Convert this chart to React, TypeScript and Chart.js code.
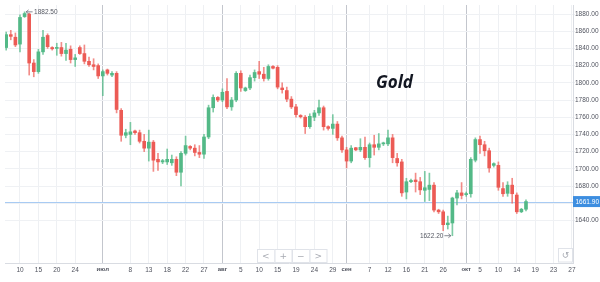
import React, { useEffect, useRef } from "react";
import { Chart, registerables } from "chart.js";

Chart.register(...registerables);

// Trading sessions (Sunday sessions included), 2022
const sessions = [
  "06-07", "06-08", "06-09", "06-10",
  "06-12", "06-13", "06-14", "06-15", "06-16", "06-17",
  "06-19", "06-20", "06-21", "06-22", "06-23", "06-24",
  "06-26", "06-27", "06-28", "06-29", "06-30", "07-01",
  "07-03", "07-04", "07-05", "07-06", "07-07", "07-08",
  "07-10", "07-11", "07-12", "07-13", "07-14", "07-15",
  "07-17", "07-18", "07-19", "07-20", "07-21", "07-22",
  "07-24", "07-25", "07-26", "07-27", "07-28", "07-29",
  "07-31", "08-01", "08-02", "08-03", "08-04", "08-05",
  "08-07", "08-08", "08-09", "08-10", "08-11", "08-12",
  "08-14", "08-15", "08-16", "08-17", "08-18", "08-19",
  "08-21", "08-22", "08-23", "08-24", "08-25", "08-26",
  "08-28", "08-29", "08-30", "08-31", "09-01", "09-02",
  "09-04", "09-05", "09-06", "09-07", "09-08", "09-09",
  "09-11", "09-12", "09-13", "09-14", "09-15", "09-16",
  "09-18", "09-19", "09-20", "09-21", "09-22", "09-23",
  "09-25", "09-26", "09-27", "09-28", "09-29", "09-30",
  "10-02", "10-03", "10-04", "10-05", "10-06", "10-07",
  "10-09", "10-10", "10-11", "10-12", "10-13", "10-14",
  "10-16", "10-17",
];

const opens = [
  1841, 1856, 1853, 1845,
  1877, 1880, 1823, 1813, 1836, 1855,
  1841, 1840, 1841, 1834, 1839, 1827,
  1841, 1834, 1825, 1821, 1820, 1808,
  1815, 1809, 1811, 1768, 1739, 1740,
  1744, 1742, 1732, 1724, 1731, 1711,
  1708, 1708, 1707, 1711, 1696, 1718,
  1726, 1724, 1719, 1717, 1737, 1771,
  1783, 1780, 1790, 1772, 1780, 1811,
  1791, 1794, 1806, 1813, 1810, 1805,
  1819, 1818, 1794, 1791, 1781, 1772,
  1762, 1760, 1749, 1760, 1765, 1771,
  1749, 1747, 1752, 1736, 1722, 1709,
  1724.5, 1722, 1725, 1713, 1728, 1725,
  1729, 1729, 1736, 1712, 1708, 1673,
  1685, 1687, 1685, 1675, 1676, 1681,
  1652, 1650, 1635, 1637, 1666, 1672,
  1670, 1671, 1710, 1734, 1728, 1721,
  1704, 1704, 1677, 1671.5, 1681, 1669.5,
  1650, 1653,
];

const highs = [
  1859, 1861, 1858, 1879,
  1882.5, 1881, 1827, 1839, 1861, 1857,
  1842, 1846, 1847, 1846, 1843, 1833,
  1843, 1844, 1830, 1828, 1822, 1815,
  1816, 1813, 1813, 1770, 1746, 1754,
  1745, 1745, 1740, 1745, 1733, 1718,
  1711, 1723, 1716, 1714, 1720, 1738,
  1727, 1728, 1727, 1740, 1774, 1786,
  1784, 1793, 1805, 1783, 1813, 1814,
  1795, 1809, 1815, 1825, 1818, 1821,
  1820, 1820, 1800, 1795, 1784, 1775,
  1763, 1762, 1764, 1768, 1780, 1773,
  1750, 1763, 1755, 1738, 1725, 1727,
  1725, 1735, 1737, 1730, 1739, 1741,
  1731, 1745, 1740, 1718, 1711, 1689,
  1688, 1695, 1690, 1697, 1695, 1684,
  1653, 1652, 1645, 1667, 1675, 1684,
  1673, 1713, 1736, 1738, 1732, 1724,
  1707, 1708, 1684, 1685, 1689, 1672,
  1654, 1664,
];

const lows = [
  1838, 1850, 1842, 1836,
  1876, 1809, 1807, 1811, 1833, 1840,
  1838, 1832, 1831, 1826, 1823, 1819,
  1833, 1822, 1819, 1815, 1805, 1785,
  1809, 1807, 1765, 1732, 1736, 1728,
  1740, 1730, 1720, 1709, 1697, 1698,
  1706, 1705, 1704, 1692, 1680, 1716,
  1722, 1715, 1713, 1712, 1735, 1766,
  1778, 1778, 1770, 1768, 1778, 1790,
  1790, 1792, 1802, 1805, 1802, 1803,
  1816, 1793, 1788, 1778, 1770, 1760,
  1759, 1741, 1747, 1756, 1762, 1745,
  1745, 1740, 1733, 1719, 1701, 1707,
  1721, 1720, 1711, 1702, 1716, 1722,
  1727, 1727, 1707, 1703, 1668, 1665,
  1684, 1673, 1670, 1662, 1663, 1650,
  1648, 1628, 1630, 1622.2, 1658, 1665,
  1668, 1667, 1708, 1718, 1715, 1696,
  1702, 1675, 1668, 1668, 1660, 1648,
  1649, 1651,
];

const closes = [
  1856, 1854, 1844, 1876,
  1880.5, 1823, 1813, 1836, 1853, 1842,
  1839.5, 1841, 1834, 1838, 1827, 1829,
  1834, 1825, 1821, 1819, 1808, 1813,
  1811, 1811, 1769, 1739, 1742, 1743,
  1742, 1732, 1724, 1731, 1710, 1708,
  1709.5, 1711, 1711, 1696, 1718, 1727,
  1724, 1719, 1717, 1737, 1771, 1783,
  1780, 1789, 1772, 1780, 1811, 1794,
  1794, 1806, 1812, 1810, 1805, 1819,
  1817, 1795, 1792, 1781, 1772, 1763,
  1760.5, 1749, 1761, 1765, 1771, 1749,
  1747, 1752, 1736, 1722, 1709, 1724,
  1722, 1725, 1713, 1728, 1725, 1729,
  1730, 1736, 1713, 1707, 1672, 1685,
  1686.5, 1685, 1675.5, 1678, 1681, 1652,
  1650, 1635, 1637, 1666, 1672, 1669,
  1671, 1711, 1734, 1728, 1721, 1701,
  1706, 1678.5, 1671, 1681, 1671, 1650,
  1653, 1661.9,
];

// x-axis tick positions (session index) and their labels
const xTickBars = [3, 7, 11, 15, 21, 27, 31, 35, 39, 43, 47, 51, 55, 59, 63, 67, 71, 74, 79, 83, 87, 91, 95, 100, 103, 107, 111, 115, 119, 123];
const xTickLabels = ["10", "15", "20", "24", "июл", "8", "13", "18", "22", "27", "авг", "5", "10", "15", "19", "24", "29", "сен", "7", "12", "16", "21", "26", "окт", "5", "10", "14", "19", "23", "27"];
const monthLabels = ["июл", "авг", "сен", "окт"];

const yTicks = [1640, 1660, 1680, 1700, 1720, 1740, 1760, 1780, 1800, 1820, 1840, 1860, 1880];
const hiddenYTick = 1660;

const title = "Gold";
const navGlyphs = ["<", "+", "−", ">"];

const UP = "#53b987";
const DOWN = "#ec5b55";
const UP_WICK = "rgba(83,185,135,0.75)";
const DOWN_WICK = "rgba(236,91,85,0.7)";
const FONT = "'Liberation Sans', Arial, sans-serif";

export default function App() {
  const canvasRef = useRef<HTMLCanvasElement | null>(null);

  useEffect(() => {
    const canvas = canvasRef.current;
    if (!canvas) return;

    const isUp = (i: number) => closes[i] >= opens[i];
    const lastPrice = closes[closes.length - 1];

    const overlay = {
      id: "overlay",
      beforeDatasetsDraw(chart: any) {
        const { ctx, chartArea, scales } = chart;
        const py = Math.round(scales.y.getPixelForValue(lastPrice)) + 0.5;
        ctx.save();
        ctx.strokeStyle = "#a8cbf3";
        ctx.lineWidth = 1;
        ctx.beginPath();
        ctx.moveTo(chartArea.left, py);
        ctx.lineTo(chartArea.right, py);
        ctx.stroke();
        ctx.restore();
      },
      afterDraw(chart: any) {
        const { ctx, chartArea, scales } = chart;
        const xs = scales.x;
        const ys = scales.y;
        ctx.save();

        // price tag
        const py = ys.getPixelForValue(lastPrice);
        ctx.fillStyle = "#3d8ee0";
        ctx.fillRect(chartArea.right, py - 5.5, chart.width - chartArea.right, 11);
        ctx.fillStyle = "#ffffff";
        ctx.font = `6.5px ${FONT}`;
        ctx.textAlign = "left";
        ctx.textBaseline = "middle";
        ctx.fillText(lastPrice.toFixed(2), chartArea.right + 2.5, py + 0.5);

        // high / low markers
        let hi = 0;
        let lo = 0;
        highs.forEach((v, i) => { if (v > highs[hi]) hi = i; });
        lows.forEach((v, i) => { if (v < lows[lo]) lo = i; });
        ctx.strokeStyle = "#6a6d78";
        ctx.fillStyle = "#555862";
        ctx.lineWidth = 0.8;
        ctx.font = `6.5px ${FONT}`;
        {
          const x = xs.getPixelForValue(hi);
          const y = ys.getPixelForValue(highs[hi]);
          ctx.beginPath();
          ctx.moveTo(x + 1.5, y);
          ctx.lineTo(x + 8, y);
          ctx.moveTo(x + 1.5, y);
          ctx.lineTo(x + 4, y - 2);
          ctx.moveTo(x + 1.5, y);
          ctx.lineTo(x + 4, y + 2);
          ctx.stroke();
          ctx.textAlign = "left";
          ctx.fillText(highs[hi].toFixed(2), x + 9.5, y + 0.5);
        }
        {
          const x = xs.getPixelForValue(lo);
          const y = ys.getPixelForValue(lows[lo]);
          ctx.beginPath();
          ctx.moveTo(x - 1.5, y);
          ctx.lineTo(x - 8, y);
          ctx.moveTo(x - 1.5, y);
          ctx.lineTo(x - 4, y - 2);
          ctx.moveTo(x - 1.5, y);
          ctx.lineTo(x - 4, y + 2);
          ctx.stroke();
          ctx.textAlign = "right";
          ctx.fillText(lows[lo].toFixed(2), x - 9, y + 0.5);
        }

        // title
        ctx.fillStyle = "#131722";
        ctx.font = `italic bold 17px 'Open Sans', sans-serif`;
        ctx.textAlign = "left";
        ctx.textBaseline = "alphabetic";
        ctx.fillText(title, 376, 88);

        // navigation buttons
        ctx.strokeStyle = "#e0e3e9";
        ctx.lineWidth = 1;
        ctx.font = `9px 'DejaVu Sans', sans-serif`;
        ctx.textAlign = "center";
        ctx.textBaseline = "middle";
        navGlyphs.forEach((g, k) => {
          const bx = 257 + k * 17.5;
          ctx.fillStyle = "#ffffff";
          ctx.fillRect(bx, 249.5, 17.5, 13);
          ctx.strokeRect(bx + 0.5, 249.5, 17, 13);
          ctx.fillStyle = "#a7aab2";
          ctx.fillText(g, bx + 8.75, 256.5);
        });

        // reset button
        ctx.fillStyle = "#ffffff";
        ctx.fillRect(558.5, 248.5, 14, 13.5);
        ctx.strokeRect(558.5, 248.5, 14, 13.5);
        ctx.fillStyle = "#a7aab2";
        ctx.font = `9px 'DejaVu Sans', sans-serif`;
        ctx.fillText("↺", 565.5, 255.5);

        ctx.restore();
      },
    };

    const chart = new Chart(canvas, {
      type: "bar",
      data: {
        datasets: [
          {
            label: "body",
            order: 0,
            data: sessions.map((_, i) => ({ x: i, y: [opens[i], closes[i]] })) as any,
            backgroundColor: sessions.map((_, i) => (isUp(i) ? UP : DOWN)),
            barThickness: 3,
            minBarLength: 1,
            grouped: false,
            borderWidth: 0,
          } as any,
          {
            label: "wick",
            order: 1,
            data: sessions.map((_, i) => ({ x: i, y: [lows[i], highs[i]] })) as any,
            backgroundColor: sessions.map((_, i) => (isUp(i) ? UP_WICK : DOWN_WICK)),
            barThickness: 1,
            minBarLength: 1,
            grouped: false,
            borderWidth: 0,
          } as any,
        ],
      },
      options: {
        animation: false,
        responsive: true,
        maintainAspectRatio: false,
        layout: { padding: { left: 5, top: 5, right: 0, bottom: 0 } },
        plugins: {
          legend: { display: false },
          tooltip: { enabled: false },
          title: { display: false },
        },
        scales: {
          x: {
            type: "linear",
            min: -0.26,
            max: 123.22,
            offset: false,
            afterBuildTicks: (s: any) => {
              s.ticks = xTickBars.map((v) => ({ value: v }));
            },
            afterFit: (s: any) => {
              s.height = 19;
            },
            ticks: {
              autoSkip: false,
              maxRotation: 0,
              padding: 3,
              color: "#50535e",
              font: (c: any) => {
                const lbl = xTickLabels[xTickBars.indexOf(c.tick?.value)];
                const m = monthLabels.includes(lbl);
                return { size: m ? 6 : 6.5, family: FONT, weight: m ? "bold" : "normal" };
              },
              callback: (v: any) => {
                const k = xTickBars.indexOf(Number(v));
                return k >= 0 ? xTickLabels[k] : "";
              },
            },
            grid: {
              offset: false,
              color: (c: any) => {
                const lbl = xTickLabels[xTickBars.indexOf(c.tick?.value)];
                return monthLabels.includes(lbl) ? "#c3c6cd" : "#eef0f3";
              },
              drawTicks: false,
              lineWidth: 1,
            },
            border: { display: true, color: "#d9dce2" },
          },
          y: {
            position: "right",
            min: 1590.47,
            max: 1890.47,
            afterBuildTicks: (s: any) => {
              s.ticks = yTicks.map((v) => ({ value: v }));
            },
            afterFit: (s: any) => {
              s.width = 27;
            },
            ticks: {
              padding: 0,
              color: "#50535e",
              font: { size: 6.5, family: FONT },
              callback: (v: any) => (Number(v) === hiddenYTick ? "" : Number(v).toFixed(2)),
            },
            grid: { color: "#eff1f4", tickLength: 2, drawTicks: true },
            border: { display: true, color: "#d9dce2" },
          },
        },
      } as any,
      plugins: [overlay],
    });

    return () => chart.destroy();
  }, []);

  return (
    <div style={{ position: "absolute", left: 0, top: 0, width: 600, height: 282, background: "#fff" }}>
      <canvas ref={canvasRef} />
    </div>
  );
}
